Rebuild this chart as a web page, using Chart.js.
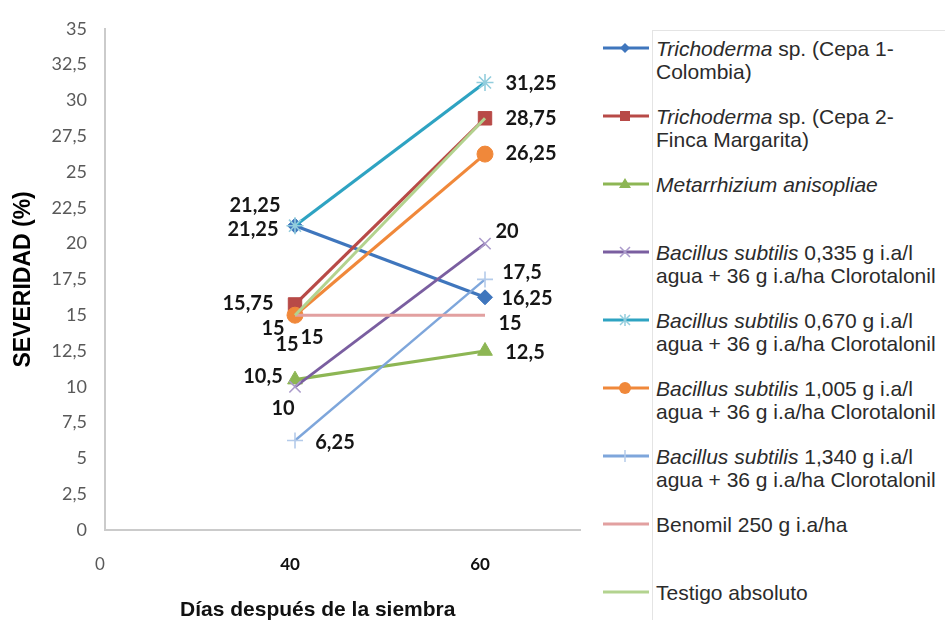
<!DOCTYPE html>
<html>
<head>
<meta charset="utf-8">
<title>Severidad</title>
<script src="https://cdn.jsdelivr.net/npm/chart.js@4.4.0/dist/chart.umd.min.js"></script>
<style>
  html, body { margin: 0; padding: 0; background: #fff; }
  #wrap { position: relative; width: 945px; height: 620px; overflow: hidden; }
  #chart-box { position: absolute; left: 0; top: 0; width: 600px; height: 620px; }
  .frame {
    position: absolute; left: 652px; top: 30px; width: 300px; height: 600px;
    border-left: 1px solid #e4e4e4; border-top: 1px solid #e4e4e4;
  }
  .item {
    position: absolute; left: 603px; width: 342px;
    font: 21px "Liberation Sans", Arial, sans-serif; color: #2b2b2b; line-height: 23px;
  }
  .item svg { position: absolute; left: 0; top: 1px; }
  .item .txt { position: absolute; left: 53px; white-space: nowrap; }
  #x-title {
    position: absolute; left: 180px; top: 597px; white-space: nowrap;
    font: bold 21px "Liberation Sans", Arial, sans-serif; color: #111;
  }
</style>
</head>
<body>
<div id="wrap">
  <div id="chart-box"><canvas id="chart"></canvas></div>
  <div class="frame"></div>
  <div id="legend"></div>
  <div id="x-title">Días después de la siembra</div>
</div>
<script>
// === Data ===
const xLabels = ['0', '40', '60'];

const seriesNames = [
  '<i>Trichoderma</i> sp. (Cepa 1-<br>Colombia)',
  '<i>Trichoderma</i> sp. (Cepa 2-<br>Finca Margarita)',
  '<i>Metarrhizium anisopliae</i>',
  '<i>Bacillus subtilis</i> 0,335 g i.a/l<br>agua + 36 g i.a/ha Clorotalonil',
  '<i>Bacillus subtilis</i> 0,670 g i.a/l<br>agua + 36 g i.a/ha Clorotalonil',
  '<i>Bacillus subtilis</i> 1,005 g i.a/l<br>agua + 36 g i.a/ha Clorotalonil',
  '<i>Bacillus subtilis</i> 1,340 g i.a/l<br>agua + 36 g i.a/ha Clorotalonil',
  'Benomil 250 g i.a/ha',
  'Testigo absoluto'
];

// severity (%) at 40 and 60 days
const trichoderma1 = [21.25, 16.25];
const trichoderma2 = [15.75, 28.75];
const metarrhizium = [10.5, 12.5];
const bacillus0335 = [10, 20];
const bacillus0670 = [21.25, 31.25];
const bacillus1005 = [15, 26.25];
const bacillus1340 = [6.25, 17.5];
const benomil = [15, 15];
const testigo = [15, 28.75];

const seriesValues = [
  trichoderma1, trichoderma2, metarrhizium, bacillus0335, bacillus0670,
  bacillus1005, bacillus1340, benomil, testigo
];

// === Styles ===
const seriesStyles = [
  { line: '#3f76bd', point: '#3f76bd', shape: 'rectRot', r: 7.5, w: 3.2 },
  { line: '#b84a47', point: '#b84a47', shape: 'rect', r: 9.5, w: 3.2 },
  { line: '#8db654', point: '#8db654', shape: 'triangle', r: 8.5, w: 3.2 },
  { line: '#7a5ea0', point: '#ab9bcb', shape: 'crossRot', r: 8, w: 2.8 },
  { line: '#2ea3c2', point: '#93cddd', shape: 'star', r: 8.5, w: 3.2 },
  { line: '#f0883a', point: '#f0883a', shape: 'circle', r: 8, w: 3.2 },
  { line: '#7ea6db', point: '#b4cbea', shape: 'cross', r: 8, w: 2.4 },
  { line: '#e2a0a0', point: '#e2a0a0', shape: false, r: 0, w: 3 },
  { line: '#b3d38f', point: '#b3d38f', shape: false, r: 0, w: 3 }
];

// data label offsets from the point [dx, dy], null = no label
const labelOffsets = [
  [[-42, 4], [42, 1]],
  [[-47, -1], [46, 0]],
  [[-32, -3], [40, 2]],
  [[-12, 22], [22, -12]],
  [[-40, -20], [46, 1]],
  [[-22, 13], [46, -1]],
  [[40, 2], [37, -7]],
  [[-8, 29], [25, 8]],
  [[17, 22], null]
];

const fmt = v => String(v).replace('.', ',');

// === Datasets ===
const n = seriesValues.length;
const datasets = seriesValues.map((vals, i) => {
  const s = seriesStyles[i];
  return {
    label: seriesNames[i].replace(/<[^>]+>/g, ' ').replace(/\s+/g, ' ').trim(),
    data: vals.map((v, j) => ({ x: j + 1, y: v })),
    borderColor: s.line,
    borderWidth: s.w,
    pointStyle: s.shape,
    pointRadius: s.r,
    pointBackgroundColor: s.point,
    pointBorderColor: s.point,
    pointBorderWidth: s.shape === 'cross' || s.shape === 'crossRot' || s.shape === 'star' ? 1.6 : 1,
    tension: 0,
    order: n - i
  };
});

// === Data labels ===
const valueLabels = {
  id: 'valueLabels',
  afterDatasetsDraw(chart) {
    const ctx = chart.ctx;
    ctx.save();
    ctx.font = 'bold 20px Lato, "Open Sans", sans-serif';
    ctx.fillStyle = '#161616';
    ctx.textAlign = 'center';
    ctx.textBaseline = 'middle';
    seriesValues.forEach((vals, i) => {
      const meta = chart.getDatasetMeta(i);
      vals.forEach((v, j) => {
        const off = labelOffsets[i][j];
        if (!off) return;
        const pt = meta.data[j];
        ctx.fillText(fmt(v), pt.x + off[0], pt.y + off[1]);
      });
    });
    ctx.restore();
  }
};

new Chart(document.getElementById('chart'), {
  type: 'line',
  data: { datasets },
  plugins: [valueLabels],
  options: {
    responsive: true,
    maintainAspectRatio: false,
    animation: false,
    layout: { padding: { top: 25, right: 20, left: 0, bottom: 0 } },
    plugins: {
      legend: { display: false },
      tooltip: { enabled: false }
    },
    scales: {
      x: {
        type: 'linear',
        min: 0,
        max: 2.5,
        afterBuildTicks: s => { s.ticks = xLabels.map((_, i) => ({ value: i })); },
        afterFit: s => { s.height = 90; },
        grid: { display: false, drawTicks: false },
        border: { display: true, color: '#cbcbcb', width: 2 },
        ticks: {
          padding: 24,
          labelOffset: -5,
          autoSkip: false,
          maxRotation: 0,
          callback: (v, i) => xLabels[i],
          color: c => (c.index === 0 ? '#595959' : '#111'),
          font: c => ({
            family: 'Lato, "Open Sans", sans-serif',
            size: 17,
            weight: c.index === 0 ? 'normal' : 'bold'
          })
        }
      },
      y: {
        min: 0,
        max: 35,
        afterFit: s => { s.width = 105; },
        grid: { display: false, drawTicks: false },
        border: { display: true, color: '#cbcbcb', width: 2 },
        ticks: {
          stepSize: 2.5,
          padding: 18,
          color: '#595959',
          font: { family: 'Lato, "Open Sans", sans-serif', size: 18 },
          callback: v => fmt(v)
        },
        title: {
          display: true,
          text: 'SEVERIDAD (%)',
          color: '#000',
          padding: { top: 10, bottom: 0 },
          font: { family: '"Liberation Sans", Arial, sans-serif', size: 23, weight: 'bold' }
        }
      }
    }
  }
});

// === Legend ===
function markerSvg(s) {
  const c = s.point, cx = 22, cy = 10;
  let m = '';
  if (s.shape === 'rectRot') m = `<polygon points="${cx},${cy - 5} ${cx + 5},${cy} ${cx},${cy + 5} ${cx - 5},${cy}" fill="${c}"/>`;
  if (s.shape === 'rect') m = `<rect x="${cx - 5}" y="${cy - 5}" width="10" height="10" fill="${c}"/>`;
  if (s.shape === 'triangle') m = `<polygon points="${cx},${cy - 6} ${cx + 6},${cy + 4} ${cx - 6},${cy + 4}" fill="${c}"/>`;
  if (s.shape === 'circle') m = `<circle cx="${cx}" cy="${cy}" r="6" fill="${c}"/>`;
  if (s.shape === 'crossRot') m = `<path d="M${cx - 5} ${cy - 5}L${cx + 5} ${cy + 5}M${cx + 5} ${cy - 5}L${cx - 5} ${cy + 5}" stroke="${c}" stroke-width="1.5"/>`;
  if (s.shape === 'star') m = `<path d="M${cx} ${cy - 6}L${cx} ${cy + 6}M${cx - 5} ${cy - 5}L${cx + 5} ${cy + 5}M${cx + 5} ${cy - 5}L${cx - 5} ${cy + 5}" stroke="${c}" stroke-width="1.5"/>`;
  if (s.shape === 'cross') m = `<path d="M${cx} ${cy - 6}L${cx} ${cy + 6}" stroke="${c}" stroke-width="1.5"/>`;
  return `<svg width="46" height="20"><line x1="0" y1="${cy}" x2="46" y2="${cy}" stroke="${s.line}" stroke-width="3"/>${m}</svg>`;
}

const legendEl = document.getElementById('legend');
legendEl.innerHTML = seriesNames.map((name, i) => {
  const top = 48 + i * 68 - 11;
  return `<div class="item" style="top:${top}px">${markerSvg(seriesStyles[i])}<div class="txt">${name}</div></div>`;
}).join('');
</script>
</body>
</html>
